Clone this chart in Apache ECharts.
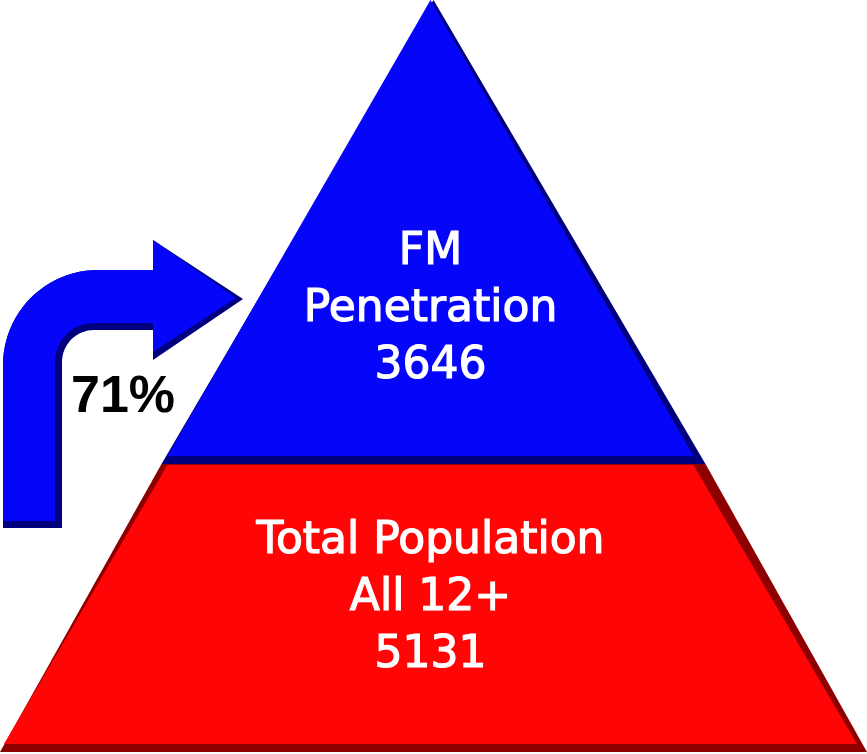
<!DOCTYPE html>
<html>
<head>
<meta charset="utf-8">
<script src="https://cdn.jsdelivr.net/npm/echarts@6/dist/echarts.min.js"></script>
<style>
html,body{margin:0;padding:0;background:#ffffff;}
#chart{width:867px;height:754px;}
</style>
</head>
<body>
<div id="chart"></div>
<script>
// ---- data ----
var categories = ['Total Population\nAll 12+', 'FM\nPenetration'];
var values = [5131, 3646];
var penetrationPct = Math.round(values[1] / values[0] * 100) + '%';

// ---- styling (kept out of the data arrays) ----
var brightColors = ['#ff0505', '#0505fa'];
var darkColors = ['#8e0000', '#00007e'];
var backHeights = [288, 464];
var frontHeights = [279, 456];

function buildData(colors, heights) {
  return categories.map(function (c, i) {
    return { name: c, value: values[i], itemStyle: { color: colors[i], height: heights[i] } };
  });
}

// arrow outline (decoration) built from arcs
function arc(cx, cy, r, a0, a1, n) {
  var pts = [];
  for (var k = 0; k <= n; k++) {
    var a = (a0 + (a1 - a0) * k / n) * Math.PI / 180;
    pts.push([cx + r * Math.cos(a), cy + r * Math.sin(a)]);
  }
  return pts;
}
function arrowPoints(o) {
  var pts = [[3, o.bottom]];
  pts = pts.concat(arc(98, 365, 95, 180, 270, 24));
  pts.push([153, 270], [153, 240], [o.tipX, o.tipY], [153, o.headBottom], [153, o.shaftBottom]);
  var ir = o.innerX2 - o.innerX1;
  pts = pts.concat(arc(o.innerX2, o.shaftBottom + ir, ir, 270, 180, 16));
  pts.push([o.innerX1, o.bottom]);
  return pts;
}
var arrowDark = arrowPoints({ bottom: 528, tipX: 243, tipY: 299, headBottom: 360, shaftBottom: 330, innerX1: 62, innerX2: 94 });
var arrowBright = arrowPoints({ bottom: 521, tipX: 236, tipY: 298, headBottom: 352, shaftBottom: 323, innerX1: 55, innerX2: 94 });

var chart = echarts.init(document.getElementById('chart'), null, { renderer: 'canvas' });

var option = {
  backgroundColor: '#ffffff',
  animation: false,
  series: [
    {
      type: 'funnel',
      silent: true,
      sort: 'ascending',
      left: 0, top: 0, width: 867, height: 752,
      min: 1145, max: 5131,
      minSize: '0%', maxSize: '100%',
      gap: 0,
      label: { show: false },
      labelLine: { show: false },
      itemStyle: { borderWidth: 0 },
      data: buildData(darkColors, backHeights)
    },
    {
      type: 'funnel',
      sort: 'ascending',
      left: 4, top: 0, width: 853, height: 744,
      min: 1257, max: 5131,
      minSize: '0%', maxSize: '100%',
      gap: 9,
      itemStyle: { borderWidth: 0 },
      label: {
        show: true,
        position: 'inside',
        color: '#ffffff',
        fontFamily: 'DejaVu Sans',
        fontSize: 44,
        lineHeight: 57,
        align: 'center',
        textBorderColor: '#ffffff',
        textBorderWidth: 1.2,
        formatter: function (p) { return p.name + '\n' + p.value; }
      },
      labelLine: { show: false },
      labelLayout: function (p) {
        return p.dataIndex === 1 ? { dy: 82 } : { dy: -6 };
      },
      data: buildData(brightColors, frontHeights)
    }
  ],
  graphic: [
    { type: 'polygon', shape: { points: arrowDark }, style: { fill: '#00007e' }, z: 10 },
    { type: 'polygon', shape: { points: arrowBright }, style: { fill: '#0505fa' }, z: 11 },
    {
      type: 'text', x: 123, y: 398, z: 12,
      style: {
        text: penetrationPct,
        fill: '#000000',
        font: 'bold 52px "Liberation Sans", Arial, sans-serif',
        textAlign: 'center',
        textVerticalAlign: 'middle'
      }
    }
  ]
};
chart.setOption(option);
</script>
</body>
</html>
